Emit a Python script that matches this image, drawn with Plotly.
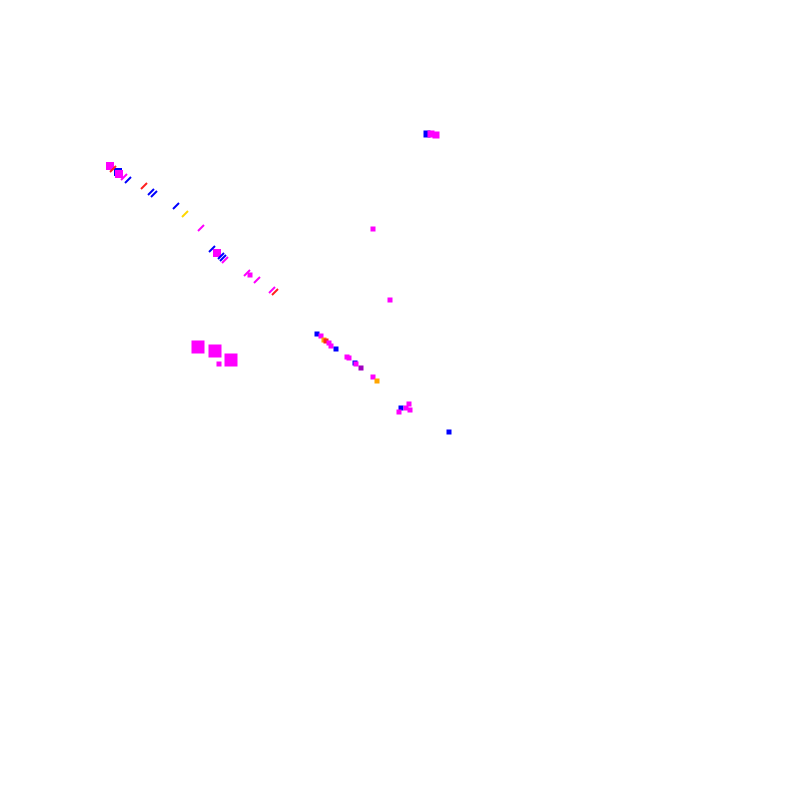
# Scattered coloured marks on a blank canvas, plotted with graph_objects
import plotly.graph_objects as go

# x / y values of each mark, its colour group and its kind
x_vals = [102, 105, 110, 111, 116, 120, 136, 143, 146, 168, 177, 193, 204, 209, 213, 215, 217,
          239, 242, 249, 264, 267,
          190, 207, 223, 211,
          309, 313, 316, 318, 321, 323, 328, 339, 341, 347, 348, 353, 365, 369,
          401, 393, 398, 402, 391, 441,
          419, 423, 428, 365, 382, 788]
y_vals = [158, 161, 164, 166, 169, 172, 178, 184, 186, 198, 206, 220, 241, 245, 248, 250, 252,
          265, 267, 272, 282, 284,
          339, 343, 352, 356,
          326, 328, 332, 333, 335, 338, 341, 349, 350, 355, 356, 360, 369, 373,
          396, 400, 400, 402, 404, 424,
          126, 126, 127, 221, 292, 324]
groups = ["magenta", "red", "blue", "magenta", "magenta", "blue", "red", "blue", "blue", "blue",
          "yellow", "magenta", "blue", "magenta", "blue", "blue", "magenta",
          "magenta", "magenta", "magenta", "magenta", "red",
          "magenta", "magenta", "magenta", "magenta",
          "blue", "magenta", "orange", "red", "magenta", "magenta", "blue", "magenta", "magenta",
          "blue", "magenta", "purple", "magenta", "orange",
          "magenta", "blue", "magenta", "magenta", "magenta", "blue",
          "blue", "magenta", "magenta", "magenta", "magenta", "blue"]
kinds = ["blob", "dash", "blob", "blob", "dash", "dash", "dash", "dash", "dash", "dash",
         "dash", "dash", "dash", "blob", "dash", "dash", "dash",
         "dash", "dot", "dash", "dash", "dash",
         "cloud", "cloud", "cloud", "dot",
         "dot", "dot", "dot", "dot", "dot", "dot", "dot", "dot", "dot",
         "dot", "dot", "dot", "dot", "dot",
         "dot", "dot", "dot", "dot", "dot", "dot",
         "bar", "bar", "bar", "dot", "dot", "dash"]

palette = {"magenta": "#ff00ff", "blue": "#0000ff", "red": "#ff2020",
           "yellow": "#ffd700", "orange": "#ffa500", "purple": "#a000c0"}
shape = {"blob": ("square", 6), "dash": ("line-ne", 6), "dot": ("square", 3),
         "cloud": ("square", 11), "bar": ("square", 5)}

fig = go.Figure()
for kind, (sym, sz) in shape.items():
    idx = [i for i, k in enumerate(kinds) if k == kind]
    fig.add_trace(go.Scatter(
        x=[x_vals[i] for i in idx], y=[y_vals[i] for i in idx],
        mode="markers",
        marker=dict(symbol=sym, size=sz,
                    color=[palette[groups[i]] for i in idx],
                    line=dict(width=2, color=[palette[groups[i]] for i in idx])),
        showlegend=False, hoverinfo="skip",
    ))

fig.update_layout(
    width=800, height=800,
    margin=dict(l=0, r=0, t=0, b=0),
    paper_bgcolor="white", plot_bgcolor="white",
    xaxis=dict(range=[0, 800], visible=False),
    yaxis=dict(range=[800, 0], visible=False),
)

fig.write_html("out.html")
